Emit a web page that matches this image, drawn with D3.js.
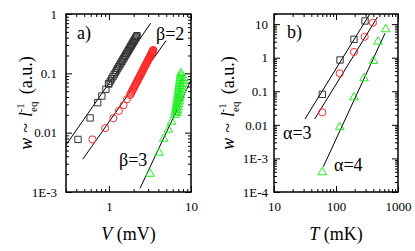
<!DOCTYPE html>
<html>
<head>
<meta charset="utf-8">
<script src="https://cdn.jsdelivr.net/npm/d3@7"></script>
<style>
  body { margin: 0; background: #fff; }
  svg text { font-family: 'Liberation Serif', 'Times New Roman', serif !important; fill: #000; }
</style>
</head>
<body>
<div id="chart"></div>
<script>
// panel a) w vs V (mV)
const aSquareV = [0.42, 0.59, 0.73, 0.82, 0.92, 0.99, 1.0, 1.04, 1.08, 1.12, 1.16, 1.2, 1.24, 1.28, 1.32, 1.36, 1.4, 1.44, 1.48, 1.52, 1.56, 1.6, 1.64, 1.68, 1.72, 1.76, 1.8, 1.84, 1.88, 1.92, 1.96, 2.0, 2.04, 2.08, 2.12, 2.16, 2.2]
const aSquareW = [0.0077, 0.0177, 0.032, 0.0415, 0.054, 0.066, 0.0676, 0.074, 0.081, 0.0882, 0.0958, 0.1037, 0.112, 0.1207, 0.1298, 0.1392, 0.149, 0.1592, 0.1698, 0.1808, 0.1921, 0.2039, 0.216, 0.2287, 0.2417, 0.2552, 0.269, 0.2832, 0.2979, 0.313, 0.3286, 0.3445, 0.3609, 0.3778, 0.3951, 0.4128, 0.431]
const aCircleV = [0.63, 0.9, 1.13, 1.32, 1.51, 1.66, 1.81, 1.845, 1.88, 1.915, 1.95, 1.985, 2.02, 2.055, 2.09, 2.125, 2.16, 2.195, 2.23, 2.265, 2.3, 2.335, 2.37, 2.405, 2.44, 2.475, 2.51, 2.545, 2.58, 2.615, 2.65, 2.685, 2.72, 2.755, 2.79, 2.825, 2.86, 2.895, 2.93, 2.965, 3.0, 3.03, 3.06, 3.09, 3.12, 3.15, 3.18, 3.21, 3.24, 3.27, 3.3, 3.325, 3.35, 3.375, 3.4, 3.42, 3.44, 3.455, 3.47]
const aCircleW = [0.0077, 0.0119, 0.0175, 0.0232, 0.029, 0.0365, 0.043, 0.0453, 0.0476, 0.05, 0.0525, 0.055, 0.0577, 0.0604, 0.0632, 0.066, 0.069, 0.072, 0.0752, 0.0784, 0.0817, 0.085, 0.0885, 0.092, 0.0957, 0.0994, 0.1033, 0.1072, 0.1112, 0.1153, 0.1195, 0.1237, 0.128, 0.1325, 0.137, 0.1418, 0.1466, 0.1512, 0.156, 0.1612, 0.1666, 0.1711, 0.1756, 0.1803, 0.185, 0.1898, 0.1947, 0.1997, 0.2047, 0.2098, 0.215, 0.2194, 0.2239, 0.2284, 0.233, 0.2365, 0.24, 0.2435, 0.247]
const aTriangleV = [3.17, 4.08, 4.65, 5.29, 5.82, 6.38, 6.45, 6.52, 6.585, 6.65, 6.725, 6.8, 6.87, 6.94, 7.015, 7.09, 7.165, 7.24, 7.315, 7.39, 7.47, 7.55, 6.73, 6.845, 6.96, 7.075, 7.19, 7.315, 7.44, 7.565, 7.69, 7.82, 7.95, 8.085, 8.22]
const aTriangleW = [0.00203, 0.00459, 0.0079, 0.0112, 0.0153, 0.0199, 0.022, 0.0244, 0.027, 0.0299, 0.0331, 0.0366, 0.0405, 0.0448, 0.0496, 0.0549, 0.0608, 0.0673, 0.0745, 0.0824, 0.0912, 0.101, 0.0215, 0.0241, 0.027, 0.0302, 0.0338, 0.0379, 0.0424, 0.0475, 0.0531, 0.0594, 0.0665, 0.0745, 0.0834]
const aFitV = [[0.3, 3.23], [0.48, 4.96], [2.39, 10]]
const aFitW = [[0.0062, 0.7], [0.00356, 0.355], [0.00115, 0.0773]]
const aXTicks = [1, 10]
const aXLabels = ['1', '10']
const aYTicks = [0.001, 0.01, 0.1, 1]
const aYLabels = ['1E-3', '0.01', '0.1', '1']

// panel b) w vs T (mK)
const bSquareT = [60.1, 116, 195, 294]
const bSquareW = [0.081, 0.853, 3.53, 12.4]
const bCircleT = [60, 114.7, 195, 290, 395]
const bCircleW = [0.0236, 0.343, 1.48, 4.2, 11.0]
const bTriangleT = [60, 115, 195, 283, 400, 475, 633]
const bTriangleW = [0.000387, 0.0085, 0.066, 0.243, 0.8, 3.0, 7.0]
const bFitT = [[31.6, 345], [45.3, 467], [62.4, 617]]
const bFitW = [[0.0149, 19], [0.0149, 16.3], [0.000566, 5.32]]
const bXTicks = [10, 100, 1000]
const bXLabels = ['10', '100', '1000']
const bYTicks = [0.0001, 0.001, 0.01, 0.1, 1, 10]
const bYLabels = ['1E-4', '1E-3', '0.01', '0.1', '1', '10']

const red = '#ff2a2a'
const green = '#22ee22'
const dark = '#333'
const serif = "'Liberation Serif', 'Times New Roman', serif"

const width = 415
const height = 251

const svg = d3
  .select('#chart')
  .append('svg')
  .attr('width', width)
  .attr('height', height)

function drawPanel(opts) {
  const x = d3.scaleLog().domain(opts.xDomain).range([opts.left, opts.right])
  const y = d3.scaleLog().domain(opts.yDomain).range([192, 14])
  const g = svg.append('g')

  // minor ticks, all four sides
  const xMinor = x.ticks().filter(v => !opts.xTicks.includes(v))
  const yMinor = y.ticks().filter(v => !opts.yTicks.some(t => Math.abs(t - v) / t < 1e-6))

  const axes = [
    [d3.axisBottom(x), `translate(0,192)`, xMinor, opts.xTicks],
    [d3.axisTop(x), `translate(0,14)`, xMinor, opts.xTicks],
    [d3.axisLeft(y), `translate(${opts.left},0)`, yMinor, opts.yTicks],
    [d3.axisRight(y), `translate(${opts.right},0)`, yMinor, opts.yTicks]
  ]
  axes.forEach(([axis, tr, minor, major]) => {
    g.append('g')
      .attr('transform', tr)
      .call(axis.tickValues(minor).tickSize(-3).tickFormat(''))
      .call(a => a.select('.domain').remove())
    g.append('g')
      .attr('transform', tr)
      .call(axis.tickValues(major).tickSize(-6).tickFormat(''))
      .call(a => a.select('.domain').remove())
  })

  g.selectAll('.tick line').attr('stroke', '#000').attr('stroke-width', 1)

  // tick labels
  g.append('g')
    .attr('transform', 'translate(0,192)')
    .call(
      d3.axisBottom(x)
        .tickValues(opts.xTicks)
        .tickSize(0)
        .tickPadding(10)
        .tickFormat((d, i) => opts.xLabels[i])
    )
    .attr('font-family', serif)
    .attr('font-size', 13)
    .call(a => a.select('.domain').remove())

  g.append('g')
    .attr('transform', `translate(${opts.left},0)`)
    .call(
      d3.axisLeft(y)
        .tickValues(opts.yTicks)
        .tickSize(0)
        .tickPadding(opts.yPad)
        .tickFormat((d, i) => opts.yLabels[i])
    )
    .attr('font-family', serif)
    .attr('font-size', 13)
    .call(a => a.select('.domain').remove())

  // fit lines
  const line = d3.line().x(d => x(d[0])).y(d => y(d[1]))
  opts.fitX.forEach((xs, i) => {
    g.append('path')
      .attr('d', line(xs.map((v, j) => [v, opts.fitY[i][j]])))
      .attr('fill', 'none')
      .attr('stroke', '#000')
      .attr('stroke-width', 1)
  })

  // markers
  opts.series.forEach(s => {
    g.selectAll(null)
      .data(s.xs.map((v, i) => [v, s.ys[i]]))
      .enter()
      .append('path')
      .attr('d', d3.symbol().type(s.type).size(s.size))
      .attr('transform', d => `translate(${x(d[0])},${y(d[1])})`)
      .attr('fill', 'none')
      .attr('stroke', s.color)
      .attr('stroke-width', 1)
  })

  // frame
  g.append('rect')
    .attr('x', opts.left)
    .attr('y', 14)
    .attr('width', opts.right - opts.left)
    .attr('height', 178)
    .attr('fill', 'none')
    .attr('stroke', '#000')
    .attr('stroke-width', 1.5)

  // axis titles
  const xt = g.append('text')
    .attr('x', (opts.left + opts.right) / 2)
    .attr('y', 240)
    .attr('text-anchor', 'middle')
    .style('font-size', '18px')
  xt.append('tspan').style('font-style', 'italic').text(opts.xVar)
  xt.append('tspan').text(' ' + opts.xUnit)

  const yt = g.append('text')
    .attr('transform', `translate(${opts.yTitleX},103) rotate(-90)`)
    .attr('text-anchor', 'middle')
    .style('font-size', '18px')
  yt.append('tspan').style('font-style', 'italic').text('w')
  yt.append('tspan').attr('dx', 5).text('~')
  yt.append('tspan').attr('dx', 6).style('font-style', 'italic').text('l')
  yt.append('tspan').attr('dy', 5).style('font-size', '11px').text('eq')
  yt.append('tspan').attr('dx', -11).attr('dy', -13).style('font-size', '11px').text('-1')
  yt.append('tspan').attr('dx', 9).attr('dy', 8).text('(a.u.)')

  opts.notes.forEach(n => {
    g.append('text')
      .attr('x', n.x)
      .attr('y', n.y)
      .style('font-size', '18px')
      .text(n.text)
  })
}

drawPanel({
  left: 66,
  right: 191,
  xDomain: [0.3, 10],
  yDomain: [0.001, 1],
  xTicks: aXTicks,
  xLabels: aXLabels,
  yTicks: aYTicks,
  yLabels: aYLabels,
  yPad: 9,
  fitX: aFitV,
  fitY: aFitW,
  series: [
    { xs: aSquareV, ys: aSquareW, type: d3.symbolSquare, size: 40, color: dark },
    { xs: aCircleV, ys: aCircleW, type: d3.symbolCircle, size: 40, color: red },
    { xs: aTriangleV, ys: aTriangleW, type: d3.symbolTriangle, size: 32, color: green }
  ],
  xVar: 'V',
  xUnit: '(mV)',
  yTitleX: 32,
  notes: [
    { x: 77, y: 39, text: 'a)' },
    { x: 156, y: 40, text: 'β=2' },
    { x: 119, y: 166, text: 'β=3' }
  ]
})

drawPanel({
  left: 274,
  right: 398,
  xDomain: [10, 1000],
  yDomain: [0.0001, 20],
  xTicks: bXTicks,
  xLabels: bXLabels,
  yTicks: bYTicks,
  yLabels: bYLabels,
  yPad: 6,
  fitX: bFitT,
  fitY: bFitW,
  series: [
    { xs: bSquareT, ys: bSquareW, type: d3.symbolSquare, size: 40, color: dark },
    { xs: bCircleT, ys: bCircleW, type: d3.symbolCircle, size: 40, color: red },
    { xs: bTriangleT, ys: bTriangleW, type: d3.symbolTriangle, size: 32, color: green }
  ],
  xVar: 'T',
  xUnit: '(mK)',
  yTitleX: 234,
  notes: [
    { x: 287, y: 38, text: 'b)' },
    { x: 283, y: 139, text: 'α=3' },
    { x: 334, y: 171, text: 'α=4' }
  ]
})
</script>
</body>
</html>
